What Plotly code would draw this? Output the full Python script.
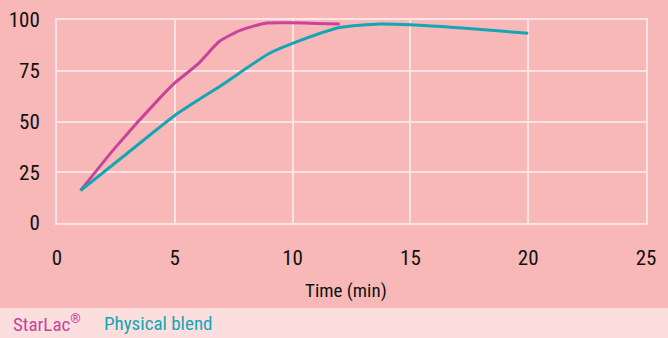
import plotly.graph_objects as go

starlac_t = [1, 2.5, 4.4, 5, 6, 6.9, 7.8, 8.9, 10, 11, 12]
starlac_v = [16, 37.5, 62, 69, 78.5, 89.5, 95, 98.5, 98.6, 98.3, 98]
blend_t = [1, 3, 5, 7, 9, 10, 12, 13.7, 15, 17.2, 20]
blend_v = [16, 34.5, 53, 68, 83.5, 88.5, 96.3, 98, 97.6, 96, 93.5]
x_ticks = [0, 5, 10, 15, 20, 25]
y_ticks = [0, 25, 50, 75, 100]

BG = "#F8B8B8"
STRIP = "#FCDEDE"
GRID = "#FDE3E3"
MAG = "#C8449A"
TEAL = "#13A6B5"
FONT = "Roboto Condensed, sans-serif"

W, H = 668, 338
L, R, T, B = 57, 22, 20, 115
pw = W - L - R
ph = H - T - B

fig = go.Figure()
fig.add_trace(go.Scatter(x=starlac_t, y=starlac_v, mode="lines",
                         line=dict(color=MAG, width=3, shape="spline", smoothing=0.6),
                         showlegend=False, cliponaxis=False, hoverinfo="skip"))
fig.add_trace(go.Scatter(x=blend_t, y=blend_v, mode="lines",
                         line=dict(color=TEAL, width=3, shape="spline", smoothing=0.6),
                         showlegend=False, cliponaxis=False, hoverinfo="skip"))

def px_x(p):
    return (p - L) / pw

def px_y(p):
    return (H - B - p) / ph

fig.add_shape(type="rect", xref="paper", yref="paper", layer="below",
              x0=px_x(-2), x1=px_x(W + 2), y0=px_y(308), y1=px_y(-2),
              fillcolor=BG, line=dict(width=0))

fig.add_annotation(text="Time (min)", xref="paper", yref="paper",
                   x=px_x(346), y=px_y(290), showarrow=False,
                   xanchor="center", yanchor="middle",
                   font=dict(family=FONT, size=19, color="#111111"))
fig.add_annotation(text="StarLac<sup>®</sup>", xref="paper", yref="paper",
                   x=px_x(11), y=px_y(323), showarrow=False,
                   xanchor="left", yanchor="middle",
                   font=dict(family=FONT, size=19, color=MAG))
fig.add_annotation(text="Physical blend", xref="paper", yref="paper",
                   x=px_x(102), y=px_y(323), showarrow=False,
                   xanchor="left", yanchor="middle",
                   font=dict(family=FONT, size=19, color=TEAL))

axis_common = dict(showgrid=True, gridcolor=GRID, gridwidth=2, zeroline=False,
                   showline=True, linecolor=GRID, linewidth=2, mirror=True,
                   automargin=False, fixedrange=True,
                   tickfont=dict(family=FONT, size=21, color="#111111"))

fig.update_xaxes(range=[0, 25], tickvals=x_ticks, ticktext=[str(v) for v in x_ticks],
                 ticklabelstandoff=15, **axis_common)
fig.update_yaxes(range=[0, 100], tickvals=y_ticks, ticktext=[str(v) for v in y_ticks],
                 ticklabelstandoff=11, **axis_common)

fig.update_layout(width=W, height=H, margin=dict(l=L, r=R, t=T, b=B),
                  paper_bgcolor=STRIP, plot_bgcolor=BG,
                  font=dict(family=FONT), hovermode=False)

fig.write_html("out.html", config={"displayModeBar": False, "staticPlot": True},
               post_script="document.body.style.margin='0';document.body.style.padding='0';document.body.style.overflow='hidden';")
